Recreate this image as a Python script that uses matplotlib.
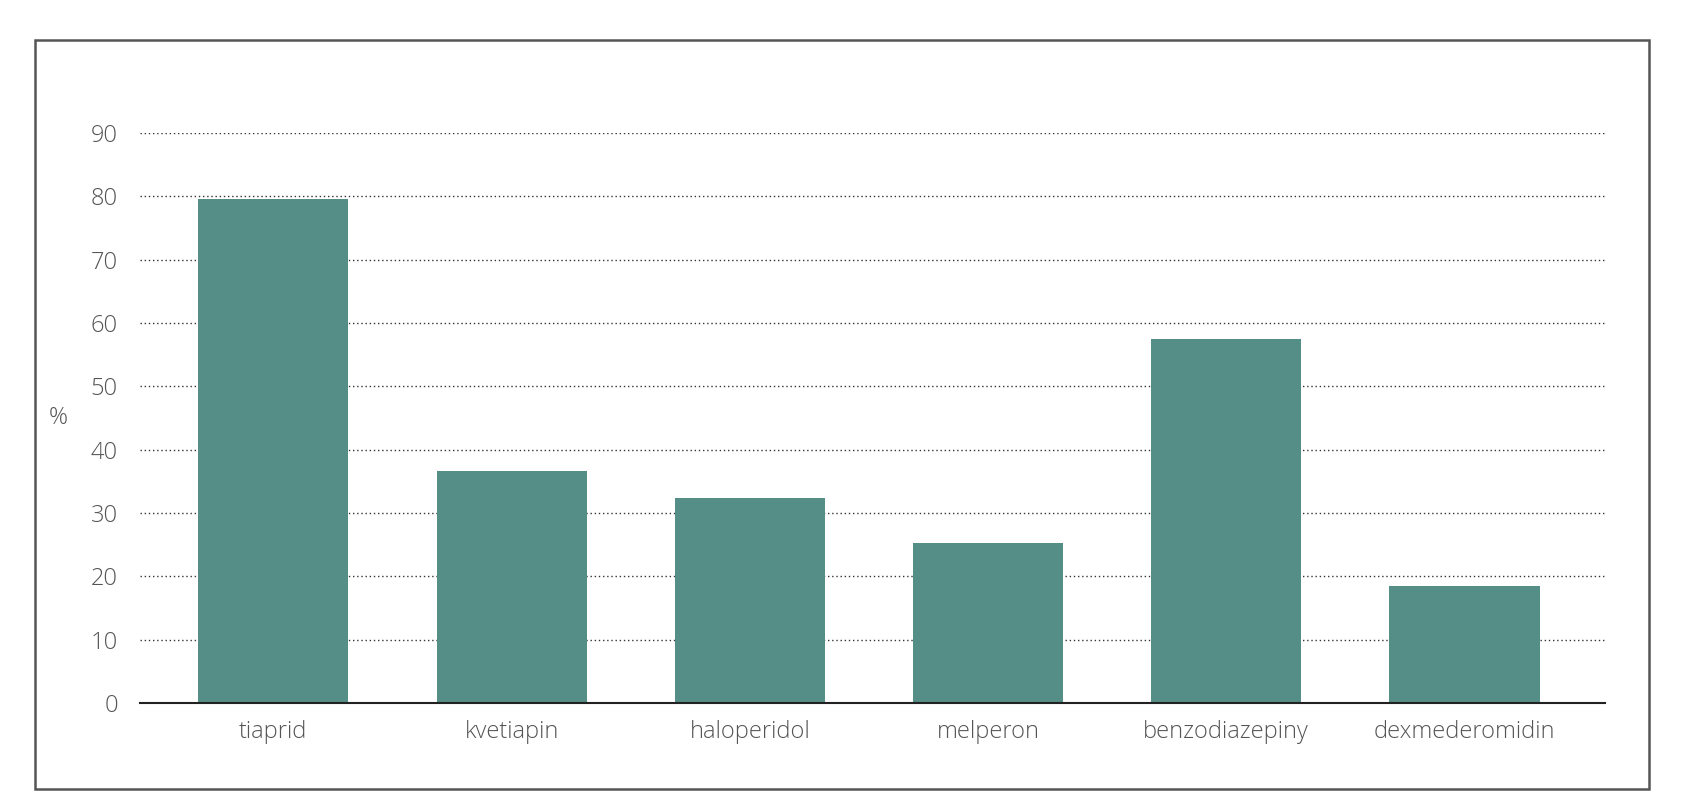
import matplotlib.pyplot as plt
from matplotlib.patches import Rectangle

# data
drugs = ['tiaprid', 'kvetiapin', 'haloperidol', 'melperon', 'benzodiazepiny', 'dexmederomidin']
percent = [79.6, 36.6, 32.4, 25.3, 57.4, 18.4]
y_ticks = [0, 10, 20, 30, 40, 50, 60, 70, 80, 90]

bar_color = '#558e86'
text_color = '#555555'

plt.rcParams['font.family'] = ['Open Sans', 'DejaVu Sans']
plt.rcParams['font.weight'] = 'light'

fig = plt.figure(figsize=(16.89, 8), dpi=100)
ax = fig.add_axes([0.0829, 0.12125, 0.8674, 0.7125])

x = list(range(len(drugs)))
ax.bar(x, percent, width=0.63, color=bar_color, zorder=3)

ax.set_xlim(-0.56, 5.59)
ax.set_ylim(0, 90)
ax.set_yticks(y_ticks)
ax.set_xticks(x)
ax.set_xticklabels(drugs)

ax.grid(axis='y', linestyle=(0, (1, 2)), color='#333333', linewidth=1.0, zorder=1)
ax.grid(axis='x', visible=False)

for s in ['top', 'right', 'left']:
    ax.spines[s].set_visible(False)
ax.spines['bottom'].set_color('#222222')
ax.spines['bottom'].set_linewidth(1.5)
ax.spines['bottom'].set_zorder(4)

ax.tick_params(axis='both', length=0, labelsize=17, labelcolor=text_color)
ax.tick_params(axis='y', pad=16)
ax.tick_params(axis='x', pad=12)

# "%" label at left of the tick labels
ax.text(-0.056, 45, '%', transform=ax.get_yaxis_transform(), fontsize=17,
        color=text_color, ha='center', va='center')

# frame round the whole chart
fig.patches.append(Rectangle((35 / 1689, 1 - 789 / 800), 1614 / 1689, 749 / 800,
                             transform=fig.transFigure, fill=False,
                             edgecolor='#555555', linewidth=1.8))

fig.savefig('out.png', dpi=100)
